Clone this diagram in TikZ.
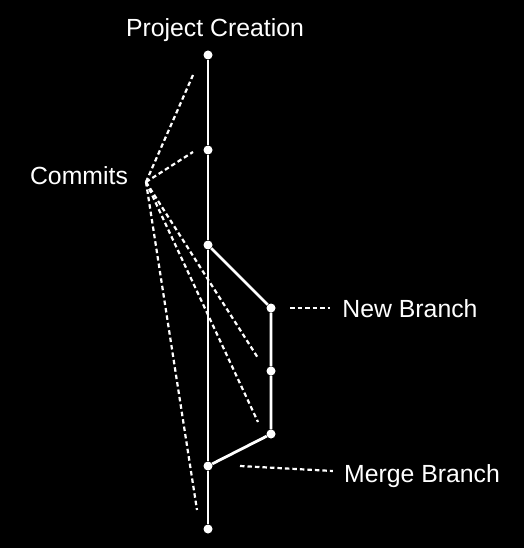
\documentclass[tikz,border=0pt]{standalone}
\usepackage{fontspec}
\setmainfont{Liberation Sans}
\usepackage{tikz}
\usetikzlibrary{positioning}

\begin{document}
\begin{tikzpicture}[x=1pt, y=-1pt, every node/.style={font=\fontsize{24.8}{28}\selectfont,text=white,inner sep=0pt},
dot/.style={circle,fill=white,minimum size=9pt},
trunk/.style={draw=white,line width=2.8pt},
pointer/.style={draw=white,line width=2.2pt,dash pattern=on 4.5pt off 3pt}]
\fill[black] (0,0) rectangle (524,548);
\useasboundingbox (0,0) rectangle (524,548);
% main line
\node[dot] (c1) at (208,55) {};
\node[dot] (c2) at (208,150) {};
\node[dot] (c3) at (208,245) {};
\node[dot] (merge) at (208,466) {};
\node[dot] (c5) at (208,529) {};
% branch
\node[dot] (b1) at (271,308) {};
\node[dot] (b2) at (271,371) {};
\node[dot] (b3) at (271,434) {};
\draw[trunk] (c1)--(c2)--(c3)--(merge)--(c5);
\draw[trunk] (c3)--(b1)--(b2)--(b3)--(merge);
% labels
\node (project) at (215,30) {Project Creation};
\node (commits) at (79,176) {Commits};
\node (newbranch) at (410,309) {New Branch};
\node (mergebranch) at (422,476) {Merge Branch};
\coordinate (hub) at (146,182);
\coordinate (p1) at (193,75);
\coordinate (p2) at (193,152);
\coordinate (p3) at (258,358);
\coordinate (p4) at (258,422);
\coordinate (p5) at (197,510);
\foreach \p in {p1,p2,p3,p4,p5}
  \draw[pointer] (hub)--(\p);
\coordinate (nb) at (290,308);
\draw[pointer] (nb)--([xshift=-12pt]nb -| newbranch.west);
\coordinate (mb) at (240,466);
\draw[pointer] (mb)--([xshift=-11pt,yshift=5pt]mergebranch.west);
\end{tikzpicture}
\end{document}
